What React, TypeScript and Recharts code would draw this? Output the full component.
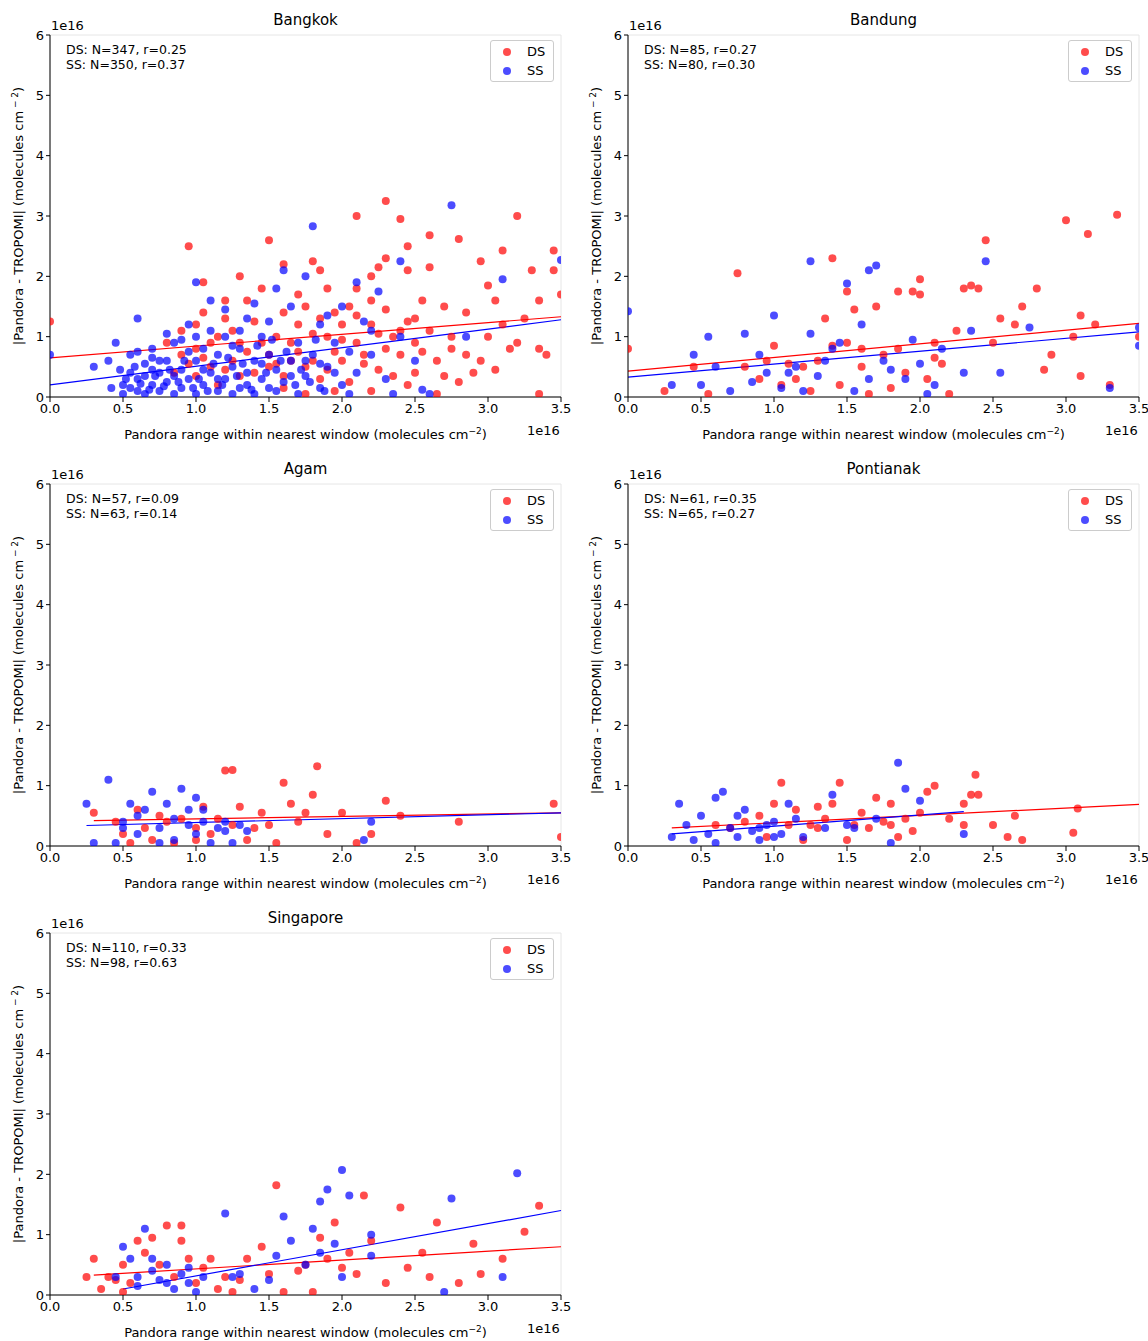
import React from "react";
import { CartesianGrid, ReferenceLine, Scatter, ScatterChart, XAxis, YAxis } from "recharts";

type P = [number, number];

const xTicks = [0, 0.5, 1, 1.5, 2, 2.5, 3, 3.5];
const yTicks = [0, 1, 2, 3, 4, 5, 6];

const bangkokDS: P[] = [[0,1.25],[0.95,2.5],[1.05,1.9],[1.2,1.6],[1.5,2.6],[1.6,2.2],[1.8,2.25],[1.85,2.1],[2.1,3.0],[2.3,3.25],[2.4,2.95],[2.45,2.5],[2.6,2.68],[2.8,2.62],[2.95,2.25],[3.0,1.85],[3.1,2.43],[3.2,3.0],[3.35,1.6],[3.45,2.43],[3.45,2.1],[3.5,1.7],[3.3,2.1],[2.3,2.3],[2.25,2.15],[2.2,2.0],[2.1,1.8],[1.95,1.4],[1.9,1.0],[1.7,1.2],[1.6,1.4],[1.4,1.25],[1.3,0.9],[1.15,1.0],[1.0,0.8],[0.9,0.7],[1.1,0.5],[1.25,0.6],[1.4,0.4],[1.5,0.7],[1.65,0.9],[1.75,0.5],[1.85,0.3],[2.0,0.6],[2.1,0.9],[2.2,1.2],[2.35,1.0],[2.4,0.7],[2.5,0.4],[2.6,1.1],[2.7,1.5],[2.75,0.8],[2.85,0.7],[2.9,0.4],[3.0,1.0],[3.05,0.45],[3.15,0.8],[3.25,1.3],[3.4,0.7],[3.35,0.05],[2.65,0.05],[2.45,0.2],[2.2,0.1],[2.05,0.25],[1.95,0.1],[1.8,0.6],[1.55,1.0],[1.35,1.6],[1.2,1.3],[1.05,1.4],[0.9,1.1],[0.8,0.9],[1.0,1.2],[1.3,2.0],[1.45,1.8],[1.7,1.7],[1.9,1.8],[2.05,1.5],[2.3,1.45],[2.5,1.3],[2.55,1.6],[2.65,0.6],[2.8,0.25],[2.95,0.6],[3.1,1.2],[3.2,0.9],[1.15,0.2],[1.3,0.35],[1.6,0.15],[1.75,0.05],[2.15,0.55],[2.3,0.8],[2.4,1.1],[2.0,1.2],[1.85,1.3],[1.65,0.6],[1.5,0.5],[1.1,0.9],[0.95,0.55],[1.25,1.1],[1.45,0.9],[2.6,2.15],[2.75,1.0],[2.25,0.45],[2.5,0.9],[1.95,0.75],[1.6,0.35],[2.1,1.35],[2.45,2.1],[3.35,0.8],[1.7,0.75],[1.8,1.05],[1.9,0.45],[2.0,0.95],[2.15,0.7],[2.25,1.05],[2.35,0.35],[2.55,0.75],[2.7,0.35],[1.55,0.55],[1.35,0.75],[1.2,0.45],[1.0,0.35],[2.45,1.25],[2.85,1.4],[3.05,1.6],[2.2,1.6],[1.75,1.5],[1.05,0.65],[0.85,0.4]];
const bangkokSS: P[] = [[0,0.7],[0.3,0.5],[0.4,0.6],[0.45,0.9],[0.5,0.2],[0.5,0.05],[0.55,0.4],[0.55,0.7],[0.6,0.1],[0.6,1.3],[0.6,0.3],[0.65,0.55],[0.65,0.05],[0.7,0.2],[0.7,0.8],[0.75,0.4],[0.75,0.1],[0.8,0.6],[0.8,0.25],[0.85,0.05],[0.85,0.9],[0.9,0.45],[0.9,0.15],[0.95,1.2],[0.95,0.3],[1.0,0.6],[1.0,0.05],[1.0,1.9],[1.05,0.2],[1.05,0.8],[1.1,0.4],[1.1,1.6],[1.15,0.1],[1.15,0.7],[1.2,0.3],[1.2,1.0],[1.25,0.5],[1.25,0.05],[1.3,0.15],[1.3,0.8],[1.35,0.4],[1.35,1.3],[1.4,0.6],[1.4,0.05],[1.45,0.3],[1.45,1.0],[1.5,0.15],[1.5,0.7],[1.55,0.45],[1.55,1.8],[1.6,2.1],[1.6,0.25],[1.65,0.6],[1.65,1.5],[1.7,0.05],[1.7,0.9],[1.75,0.35],[1.75,2.0],[1.8,2.83],[1.8,0.7],[1.85,0.15],[1.85,1.2],[1.9,0.5],[1.95,0.9],[2.0,0.2],[2.0,1.5],[2.05,0.05],[2.1,0.4],[2.1,1.9],[2.15,1.25],[2.2,0.7],[2.25,1.75],[2.3,0.3],[2.35,0.05],[2.4,2.25],[2.4,1.0],[2.5,0.6],[2.6,0.05],[2.75,3.18],[2.85,1.0],[3.1,1.95],[3.5,2.27],[2.55,0.12],[0.7,0.65],[0.85,0.35],[0.95,0.75],[1.05,0.45],[1.15,0.3],[1.25,0.85],[1.35,0.2],[1.45,0.55],[1.55,0.1],[1.65,0.35],[1.75,0.6],[0.8,1.05],[0.9,0.95],[1.0,1.0],[1.1,1.1],[0.75,0.6],[0.55,0.15],[0.65,0.35],[1.2,1.45],[1.3,1.1],[1.4,1.55],[1.5,1.25],[1.9,1.35],[2.05,0.75],[2.2,1.1],[1.95,0.4],[1.85,0.55],[0.6,0.75],[0.7,0.45],[0.52,0.3],[0.58,0.5],[0.62,0.22],[0.68,0.12],[0.72,0.35],[0.78,0.18],[0.82,0.45],[0.88,0.25],[0.92,0.6],[0.98,0.15],[1.02,0.3],[1.08,0.1],[1.12,0.55],[1.18,0.2],[1.22,0.65],[1.28,0.35],[1.32,0.55],[1.38,0.12],[1.42,0.85],[1.48,0.4],[1.52,0.95],[1.58,0.6],[1.62,0.75],[1.68,0.2],[1.72,0.45],[1.78,0.25],[1.82,0.95],[1.88,0.1],[0.48,0.45],[0.42,0.15]];

const bandungDS: P[] = [[0,0.8],[0.25,0.1],[0.45,0.5],[0.55,0.05],[0.75,2.05],[0.8,0.5],[0.9,0.3],[1.0,0.85],[1.05,0.2],[1.1,0.55],[1.15,0.3],[1.2,0.5],[1.3,0.6],[1.35,1.3],[1.4,2.3],[1.45,0.2],[1.5,1.75],[1.55,1.45],[1.5,0.9],[1.6,0.5],[1.65,0.05],[1.7,1.5],[1.75,0.7],[1.8,0.15],[1.85,1.75],[1.9,0.4],[1.95,1.75],[2.0,1.95],[2.0,1.7],[2.05,0.3],[2.1,0.9],[2.15,0.55],[2.2,0.05],[2.25,1.1],[2.3,1.8],[2.35,1.85],[2.4,1.8],[2.45,2.6],[2.55,1.3],[2.65,1.2],[2.7,1.5],[2.8,1.8],[2.85,0.45],[2.9,0.7],[3.0,2.93],[3.05,1.0],[3.1,0.35],[3.1,1.35],[3.15,2.7],[3.2,1.2],[3.3,0.2],[3.35,3.02],[3.5,1.0],[1.25,0.1],[1.85,0.8],[2.5,0.9],[0.95,0.6],[1.4,0.85],[1.6,0.8],[2.1,0.65]];
const bandungSS: P[] = [[0,1.42],[0.3,0.2],[0.45,0.7],[0.5,0.2],[0.55,1.0],[0.7,0.1],[0.8,1.05],[0.85,0.25],[0.95,0.4],[1.0,1.35],[1.05,0.15],[1.1,0.4],[1.15,0.5],[1.2,0.1],[1.25,1.05],[1.25,2.25],[1.3,0.35],[1.35,0.6],[1.4,0.8],[1.5,1.88],[1.55,0.1],[1.6,1.2],[1.65,0.3],[1.65,2.1],[1.7,2.18],[1.75,0.6],[1.8,0.45],[1.9,0.3],[1.95,0.95],[2.05,0.05],[2.1,0.2],[2.15,0.8],[2.3,0.4],[2.35,1.1],[2.45,2.25],[2.55,0.4],[2.75,1.15],[3.3,0.15],[3.5,1.15],[3.5,0.85],[0.6,0.5],[0.9,0.7],[1.45,0.9],[2.0,0.55]];

const agamDS: P[] = [[0.3,0.55],[0.45,0.4],[0.5,0.2],[0.6,0.6],[0.65,0.3],[0.7,0.1],[0.75,0.5],[0.85,0.05],[0.9,0.45],[1.0,0.3],[1.05,0.65],[1.1,0.2],[1.2,1.25],[1.25,1.26],[1.3,0.65],[1.35,0.1],[1.45,0.55],[1.5,0.35],[1.55,0.05],[1.6,1.05],[1.65,0.7],[1.7,0.4],[1.75,0.55],[1.8,0.85],[1.83,1.32],[1.9,0.2],[2.0,0.55],[2.1,0.05],[2.2,0.2],[2.3,0.75],[2.4,0.5],[2.8,0.4],[3.45,0.7],[3.5,0.15],[0.8,0.4],[1.15,0.45],[1.4,0.3],[1.0,0.1],[0.55,0.05],[1.25,0.35]];
const agamSS: P[] = [[0.25,0.7],[0.4,1.1],[0.45,0.05],[0.5,0.4],[0.55,0.7],[0.6,0.2],[0.65,0.6],[0.7,0.9],[0.75,0.3],[0.8,0.7],[0.85,0.1],[0.9,0.95],[0.95,0.6],[1.0,0.8],[1.0,0.2],[1.05,0.4],[1.1,0.05],[1.15,0.3],[1.2,0.25],[1.25,0.05],[1.3,0.35],[1.35,0.25],[0.3,0.05],[0.6,0.5],[0.75,0.05],[0.95,0.35],[1.05,0.6],[1.2,0.4],[2.2,0.4],[2.15,0.1],[0.85,0.45],[0.5,0.3]];

const pontianakDS: P[] = [[0.6,0.35],[0.7,0.3],[0.8,0.4],[0.9,0.5],[0.95,0.15],[1.0,0.7],[1.05,1.05],[1.1,0.35],[1.15,0.6],[1.2,0.1],[1.25,0.35],[1.3,0.65],[1.35,0.45],[1.4,0.7],[1.45,1.05],[1.5,0.1],[1.55,0.35],[1.6,0.55],[1.65,0.3],[1.7,0.8],[1.75,0.4],[1.8,0.7],[1.85,0.15],[1.9,0.45],[1.95,0.25],[2.0,0.55],[2.05,0.9],[2.1,1.0],[2.2,0.45],[2.3,0.7],[2.35,0.85],[2.38,1.18],[2.4,0.85],[2.5,0.35],[2.6,0.15],[2.65,0.5],[2.7,0.1],[3.08,0.62],[3.05,0.22],[2.3,0.35],[1.3,0.3],[1.8,0.35]];
const pontianakSS: P[] = [[0.3,0.15],[0.35,0.7],[0.4,0.35],[0.45,0.1],[0.5,0.5],[0.55,0.2],[0.6,0.8],[0.65,0.9],[0.7,0.3],[0.75,0.15],[0.8,0.6],[0.85,0.25],[0.9,0.1],[0.95,0.35],[1.0,0.4],[1.05,0.2],[1.1,0.7],[1.15,0.45],[1.2,0.15],[1.35,0.3],[1.4,0.85],[1.5,0.35],[1.55,0.3],[1.7,0.45],[1.8,0.05],[1.85,1.38],[1.9,0.95],[2.0,0.75],[2.3,0.2],[0.9,0.3],[1.0,0.15],[0.75,0.5],[0.6,0.05]];

const singaporeDS: P[] = [[0.25,0.3],[0.3,0.6],[0.35,0.1],[0.4,0.3],[0.5,0.5],[0.55,0.2],[0.6,0.9],[0.65,0.7],[0.7,0.95],[0.75,0.5],[0.8,1.15],[0.85,0.3],[0.9,0.9],[0.95,0.6],[1.0,0.2],[1.05,0.45],[1.1,0.6],[1.2,0.3],[1.25,0.05],[1.3,0.25],[1.35,0.6],[1.45,0.8],[1.5,0.35],[1.55,1.82],[1.6,0.05],[1.7,0.4],[1.8,0.05],[1.85,0.95],[1.9,0.6],[1.95,1.2],[2.0,0.45],[2.05,0.7],[2.1,0.35],[2.15,1.65],[2.2,0.9],[2.3,0.2],[2.4,1.45],[2.55,0.7],[2.6,0.3],[2.65,1.2],[2.8,0.2],[2.9,0.85],[2.95,0.35],[3.1,0.6],[3.25,1.05],[3.35,1.48],[0.45,0.25],[1.15,0.1],[1.75,0.5],[2.45,0.45],[0.9,1.15],[0.5,0.05]];
const singaporeSS: P[] = [[0.45,0.3],[0.5,0.8],[0.55,0.6],[0.6,0.15],[0.65,1.1],[0.7,0.4],[0.75,0.25],[0.8,0.5],[0.85,0.1],[0.9,0.35],[0.95,0.2],[1.0,0.05],[1.05,0.3],[1.2,1.35],[1.25,0.3],[1.4,0.1],[1.5,0.25],[1.55,0.65],[1.6,1.3],[1.65,0.9],[1.75,0.5],[1.8,1.1],[1.85,1.55],[1.9,1.75],[1.95,0.85],[2.0,0.3],[2.0,2.07],[2.05,1.65],[2.2,1.0],[2.7,0.05],[2.75,1.6],[3.2,2.02],[3.1,0.3],[0.6,0.3],[0.7,0.6],[0.8,0.2],[0.95,0.45],[1.3,0.35],[1.85,0.7],[2.2,0.65]];

// regression lines: [x0, y0, x1, y1]
const fits: Record<string, { ds: number[]; ss: number[] }> = {
  Bangkok: { ds: [0, 0.65, 3.5, 1.33], ss: [0, 0.2, 3.5, 1.28] },
  Bandung: { ds: [0, 0.43, 3.5, 1.22], ss: [0, 0.33, 3.5, 1.08] },
  Agam: { ds: [0.3, 0.42, 3.5, 0.55], ss: [0.25, 0.34, 3.5, 0.55] },
  Pontianak: { ds: [0.3, 0.3, 3.5, 0.69], ss: [0.3, 0.2, 2.3, 0.57] },
  Singapore: { ds: [0.3, 0.33, 3.5, 0.8], ss: [0.5, 0.1, 3.5, 1.4] },
};

const stats: Record<string, string[]> = {
  Bangkok: ["DS: N=347, r=0.25", "SS: N=350, r=0.37"],
  Bandung: ["DS: N=85, r=0.27", "SS: N=80, r=0.30"],
  Agam: ["DS: N=57, r=0.09", "SS: N=63, r=0.14"],
  Pontianak: ["DS: N=61, r=0.35", "SS: N=65, r=0.27"],
  Singapore: ["DS: N=110, r=0.33", "SS: N=98, r=0.63"],
};

const toPts = (a: P[]) => a.map(([x, y]) => ({ x, y }));
const font = "'DejaVu Sans', sans-serif";
const tickStyle = { fill: "#000", fontSize: 13, fontFamily: font };

function Dot(props: any) {
  const { cx, cy, fill } = props;
  return <circle cx={cx} cy={cy} r={4} fill={fill} fillOpacity={0.7} />;
}

function Panel({ name, ds, ss, left, top }: { name: string; ds: P[]; ss: P[]; left: number; top: number }) {
  const f = fits[name];
  return (
    <div style={{ position: "absolute", left, top, width: 575, height: 449, fontFamily: font, color: "#000" }}>
      <ScatterChart width={575} height={449} margin={{ top: 35, right: 14, left: 10, bottom: 32 }}>
        <CartesianGrid stroke="#e6e6e6" />
        <XAxis xAxisId="b" type="number" dataKey="x" domain={[0, 3.5]} ticks={xTicks} tickFormatter={(v) => v.toFixed(1)}
          tick={tickStyle} stroke="#000" tickSize={5} height={20} allowDataOverflow />
        <XAxis xAxisId="t" orientation="top" type="number" dataKey="x" domain={[0, 3.5]} tick={false} tickLine={false} stroke="#000" height={0} />
        <YAxis yAxisId="l" type="number" dataKey="y" domain={[0, 6]} ticks={yTicks} tick={tickStyle} stroke="#000" tickSize={4} width={40} allowDataOverflow />
        <YAxis yAxisId="r" orientation="right" type="number" dataKey="y" domain={[0, 6]} tick={false} tickLine={false} stroke="#000" width={0} />
        <Scatter xAxisId="b" yAxisId="l" data={toPts(ds)} fill="#ff0000" shape={<Dot />} isAnimationActive={false} />
        <Scatter xAxisId="b" yAxisId="l" data={toPts(ss)} fill="#0000ff" shape={<Dot />} isAnimationActive={false} />
        <ReferenceLine xAxisId="b" yAxisId="l" segment={[{ x: f.ds[0], y: f.ds[1] }, { x: f.ds[2], y: f.ds[3] }]} stroke="#ff0000" strokeWidth={1.2} />
        <ReferenceLine xAxisId="b" yAxisId="l" segment={[{ x: f.ss[0], y: f.ss[1] }, { x: f.ss[2], y: f.ss[3] }]} stroke="#0000ff" strokeWidth={1.2} />
      </ScatterChart>
      <div style={{ position: "absolute", left: 50, width: 511, top: 11, textAlign: "center", fontSize: 15 }}>{name}</div>
      <div style={{ position: "absolute", left: 51, top: 18, fontSize: 13 }}>1e16</div>
      <div style={{ position: "absolute", left: 527, top: 423, fontSize: 13 }}>1e16</div>
      <div style={{ position: "absolute", left: 66, top: 42, fontSize: 12.5, lineHeight: "15px" }}>
        {stats[name].map((s) => <div key={s}>{s}</div>)}
      </div>
      <div style={{ position: "absolute", left: 490, top: 40, width: 62, height: 40, border: "1px solid #ccc", borderRadius: 3, background: "#fff", fontSize: 13 }}>
        {[["#ff0000", "DS"], ["#0000ff", "SS"]].map(([c, l], i) => (
          <div key={l} style={{ position: "absolute", top: 3 + i * 19, left: 12, display: "flex", alignItems: "center" }}>
            <span style={{ width: 8, height: 8, borderRadius: 4, background: c, opacity: 0.7, display: "inline-block", marginRight: 16 }} />
            {l}
          </div>
        ))}
      </div>
      <div style={{ position: "absolute", left: 50, width: 511, top: 426, textAlign: "center", fontSize: 13 }}>
        Pandora range within nearest window (molecules cm<sup style={{ fontSize: 9 }}>−2</sup>)
      </div>
      <div style={{ position: "absolute", left: 18, top: 216, fontSize: 13, whiteSpace: "nowrap", transform: "translate(-50%, -50%) rotate(-90deg)" }}>
        |Pandora - TROPOMI| (molecules cm<sup style={{ fontSize: 9 }}> − 2</sup>)
      </div>
    </div>
  );
}

export default function App() {
  return (
    <div style={{ position: "absolute", left: 0, top: 0, width: 1148, height: 1341, background: "#fff" }}>
      <Panel name="Bangkok" ds={bangkokDS} ss={bangkokSS} left={0} top={0} />
      <Panel name="Bandung" ds={bandungDS} ss={bandungSS} left={578} top={0} />
      <Panel name="Agam" ds={agamDS} ss={agamSS} left={0} top={449} />
      <Panel name="Pontianak" ds={pontianakDS} ss={pontianakSS} left={578} top={449} />
      <Panel name="Singapore" ds={singaporeDS} ss={singaporeSS} left={0} top={898} />
    </div>
  );
}
